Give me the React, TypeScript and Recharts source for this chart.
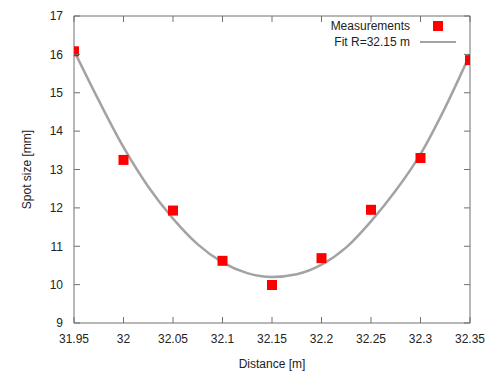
import {
  ComposedChart,
  Scatter,
  Line,
  XAxis,
  YAxis,
} from 'recharts';

// measured spot size vs distance
const distances = [31.95, 32.0, 32.05, 32.1, 32.15, 32.2, 32.25, 32.3, 32.35];
const spotSizes = [16.08, 13.25, 11.93, 10.62, 9.99, 10.69, 11.95, 13.3, 15.85];

// fitted curve
const fitDistances = [
  31.95, 31.975, 32.0, 32.025, 32.05, 32.075, 32.1, 32.125, 32.15, 32.175, 32.2, 32.225, 32.25,
  32.275, 32.3, 32.325, 32.35,
];
const fitSizes = [
  16.1, 14.8, 13.58, 12.55, 11.72, 11.05, 10.58, 10.3, 10.2, 10.27, 10.52, 10.97, 11.65, 12.45,
  13.4, 14.62, 16.0,
];

const xTicks = [31.95, 32, 32.05, 32.1, 32.15, 32.2, 32.25, 32.3, 32.35];
const yTicks = [9, 10, 11, 12, 13, 14, 15, 16, 17];

const seriesNames = ['Measurements', 'Fit R=32.15 m'];

const measured = distances.map((x, i) => ({ x, y: spotSizes[i] }));
const fit = fitDistances.map((x, i) => ({ x, y: fitSizes[i] }));

const FONT = '"Liberation Sans", Arial, sans-serif';
const AXIS = '#707070';
const TEXT = '#222';
const RED = '#ff0000';
const GRAY = '#a3a3a3';
const TICK = 6;
const GAP = 11;

function Square(props: any) {
  const { cx, cy } = props;
  return <rect x={cx - 5} y={cy - 5} width={10} height={10} fill={RED} />;
}

// gnuplot style: tick marks point into the plot
const BottomTick = ({ x, y, payload }: any) => (
  <g>
    <line x1={x} x2={x} y1={y - GAP} y2={y - GAP - TICK} stroke={AXIS} />
    <text x={x} y={y} dy="0.71em" textAnchor="middle" fontSize={12} fill={TEXT} fontFamily={FONT}>
      {String(payload.value)}
    </text>
  </g>
);
const LeftTick = ({ x, y, payload }: any) => (
  <g>
    <line x1={x + GAP} x2={x + GAP + TICK} y1={y} y2={y} stroke={AXIS} />
    <text x={x} y={y} dy="0.355em" textAnchor="end" fontSize={12} fill={TEXT} fontFamily={FONT}>
      {String(payload.value)}
    </text>
  </g>
);
const TopTick = ({ x, y }: any) => <line x1={x} x2={x} y1={y} y2={y + TICK} stroke={AXIS} />;
const RightTick = ({ x, y }: any) => <line x1={x} x2={x - TICK} y1={y} y2={y} stroke={AXIS} />;

function ChartLegend() {
  const row = { display: 'flex', alignItems: 'center', height: 16, justifyContent: 'flex-end' };
  const label = { fontSize: 12, color: TEXT, fontFamily: FONT, marginRight: 10 };
  return (
    <div style={{ position: 'absolute', top: 18, left: 316, width: 140 }}>
      <div style={row}>
        <span style={label}>{seriesNames[0]}</span>
        <div style={{ width: 36, display: 'flex', justifyContent: 'center' }}>
          <div style={{ width: 10, height: 10, background: RED }} />
        </div>
      </div>
      <div style={row}>
        <span style={label}>{seriesNames[1]}</span>
        <div style={{ width: 36, height: 2, background: GRAY }} />
      </div>
    </div>
  );
}

export default function App() {
  return (
    <div style={{ position: 'absolute', left: 0, top: 0, width: 498, height: 374, background: '#fff' }}>
      <ComposedChart
        width={498}
        height={374}
        margin={{ top: 6, right: 18, bottom: 0, left: 0 }}
      >
        <XAxis
          dataKey="x"
          type="number"
          domain={[31.95, 32.35]}
          ticks={xTicks}
          allowDataOverflow
          height={51}
          stroke={AXIS}
          tickLine={false}
          tickSize={0}
          tickMargin={GAP}
          tick={BottomTick}
          label={{
            value: 'Distance [m]',
            position: 'insideBottom',
            offset: 6,
            style: { fontSize: 12, fill: TEXT, fontFamily: FONT },
          }}
        />
        <XAxis
          xAxisId="top"
          dataKey="x"
          orientation="top"
          type="number"
          domain={[31.95, 32.35]}
          ticks={xTicks}
          allowDataOverflow
          height={10}
          stroke={AXIS}
          tickLine={false}
          tickSize={0}
          tickMargin={0}
          tick={TopTick}
        />
        <YAxis
          type="number"
          domain={[9, 17]}
          ticks={yTicks}
          allowDataOverflow
          width={74}
          stroke={AXIS}
          tickLine={false}
          tickSize={0}
          tickMargin={GAP}
          tick={LeftTick}
          label={{
            value: 'Spot size [mm]',
            angle: -90,
            position: 'center',
            dx: -10,
            style: { fontSize: 12, fill: TEXT, fontFamily: FONT, textAnchor: 'middle' },
          }}
        />
        <YAxis
          yAxisId="right"
          orientation="right"
          type="number"
          domain={[9, 17]}
          ticks={yTicks}
          allowDataOverflow
          width={10}
          stroke={AXIS}
          tickLine={false}
          tickSize={0}
          tickMargin={0}
          tick={RightTick}
        />
        <Scatter
          name={seriesNames[0]}
          data={measured}
          dataKey="y"
          shape={Square}
          isAnimationActive={false}
        />
        <Line
          name={seriesNames[1]}
          xAxisId="top"
          yAxisId="right"
          data={fit}
          dataKey="y"
          type="monotone"
          stroke={GRAY}
          strokeWidth={2.5}
          dot={false}
          activeDot={false}
          isAnimationActive={false}
        />
      </ComposedChart>
      <ChartLegend />
    </div>
  );
}
